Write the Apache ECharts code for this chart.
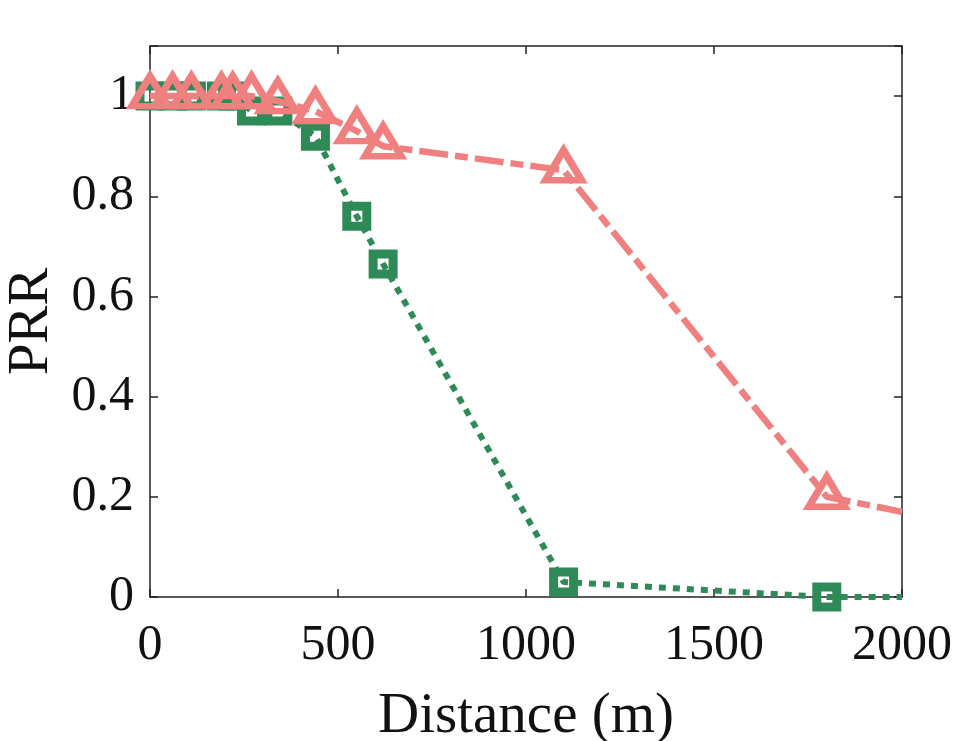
<!DOCTYPE html>
<html>
<head>
<meta charset="utf-8">
<script src="https://cdn.jsdelivr.net/npm/echarts@6/dist/echarts.min.js"></script>
<style>
html,body{margin:0;padding:0;background:#fff;}
#c{width:977px;height:741px;}
</style>
</head>
<body>
<div id="c"></div>
<script>
const distances = [0, 60, 110, 190, 220, 270, 340, 440, 550, 620, 1100, 1800, 2000];
const prrPink = [1, 1, 1, 1, 1, 1, 0.99, 0.97, 0.93, 0.90, 0.852, 0.2, 0.17];
const prrGreen = [1, 1, 1, 1, 1, 0.97, 0.97, 0.92, 0.76, 0.665, 0.03, 0, 0];
const xTicks = [0, 500, 1000, 1500, 2000];
const yTicks = [0, 0.2, 0.4, 0.6, 0.8, 1];

const FONT = '"Liberation Serif", "Times New Roman", serif';
const PINK = '#f08080';
const GREEN = '#2e8b57';

function pts(ys) {
  return distances.map((d, i) => {
    const item = { value: [d, ys[i]] };
    if (i === distances.length - 1) item.symbol = 'none';
    return item;
  });
}

const chart = echarts.init(document.getElementById('c'), null, { renderer: 'canvas' });
const axisLine = { show: true, onZero: false, lineStyle: { color: '#222', width: 1.5 } };
const tick = { show: true, inside: true, length: 8, lineStyle: { color: '#222', width: 1.5 } };

chart.setOption({
  animation: false,
  backgroundColor: '#fff',
  grid: { left: 150, right: 75, top: 46, bottom: 144, containLabel: false, outerBoundsMode: 'none' },
  xAxis: [{
    type: 'value', min: 0, max: 2000, interval: 500, position: 'bottom',
    axisLine: axisLine, axisTick: tick, splitLine: { show: false },
    axisLabel: { margin: 24, fontFamily: FONT, fontSize: 50, color: '#111',
      formatter: v => xTicks.includes(v) ? String(v) : '' },
    name: 'Distance (m)', nameLocation: 'middle', nameGap: 92,
    nameTextStyle: { fontFamily: FONT, fontSize: 57, color: '#111' }
  }, {
    type: 'value', min: 0, max: 2000, interval: 500, position: 'top',
    axisLine: axisLine, axisTick: tick, axisLabel: { show: false }, splitLine: { show: false }
  }],
  yAxis: [{
    type: 'value', min: 0, max: 1.1, interval: 0.2, position: 'left',
    axisLine: axisLine, axisTick: tick, splitLine: { show: false },
    axisLabel: { margin: 16, fontFamily: FONT, fontSize: 50, color: '#111',
      formatter: v => { const r = Math.round(v * 10) / 10; return yTicks.includes(r) ? String(r) : ''; } },
    name: 'PRR', nameLocation: 'middle', nameGap: 82, nameRotate: 90,
    nameTextStyle: { fontFamily: FONT, fontSize: 57, color: '#111' }
  }, {
    type: 'value', min: 0, max: 1.1, interval: 0.2, position: 'right',
    axisLine: axisLine, axisTick: tick, axisLabel: { show: false }, splitLine: { show: false }
  }],
  series: [{
    type: 'line', name: 'green', data: pts(prrGreen), xAxisIndex: 0, yAxisIndex: 0,
    symbol: 'rect', symbolSize: 20,
    lineStyle: { color: GREEN, width: 6, type: [7, 7] },
    itemStyle: { color: 'rgba(0,0,0,0)', borderColor: GREEN, borderWidth: 9 },
    z: 2
  }, {
    type: 'line', name: 'pink', data: pts(prrPink), xAxisIndex: 0, yAxisIndex: 0,
    symbol: 'triangle', symbolSize: [36, 30], symbolOffset: [0, -5],
    lineStyle: { color: PINK, width: 6.5, type: [29, 7, 13, 7] },
    itemStyle: { color: 'rgba(0,0,0,0)', borderColor: PINK, borderWidth: 7 },
    z: 3
  }]
});
</script>
</body>
</html>
